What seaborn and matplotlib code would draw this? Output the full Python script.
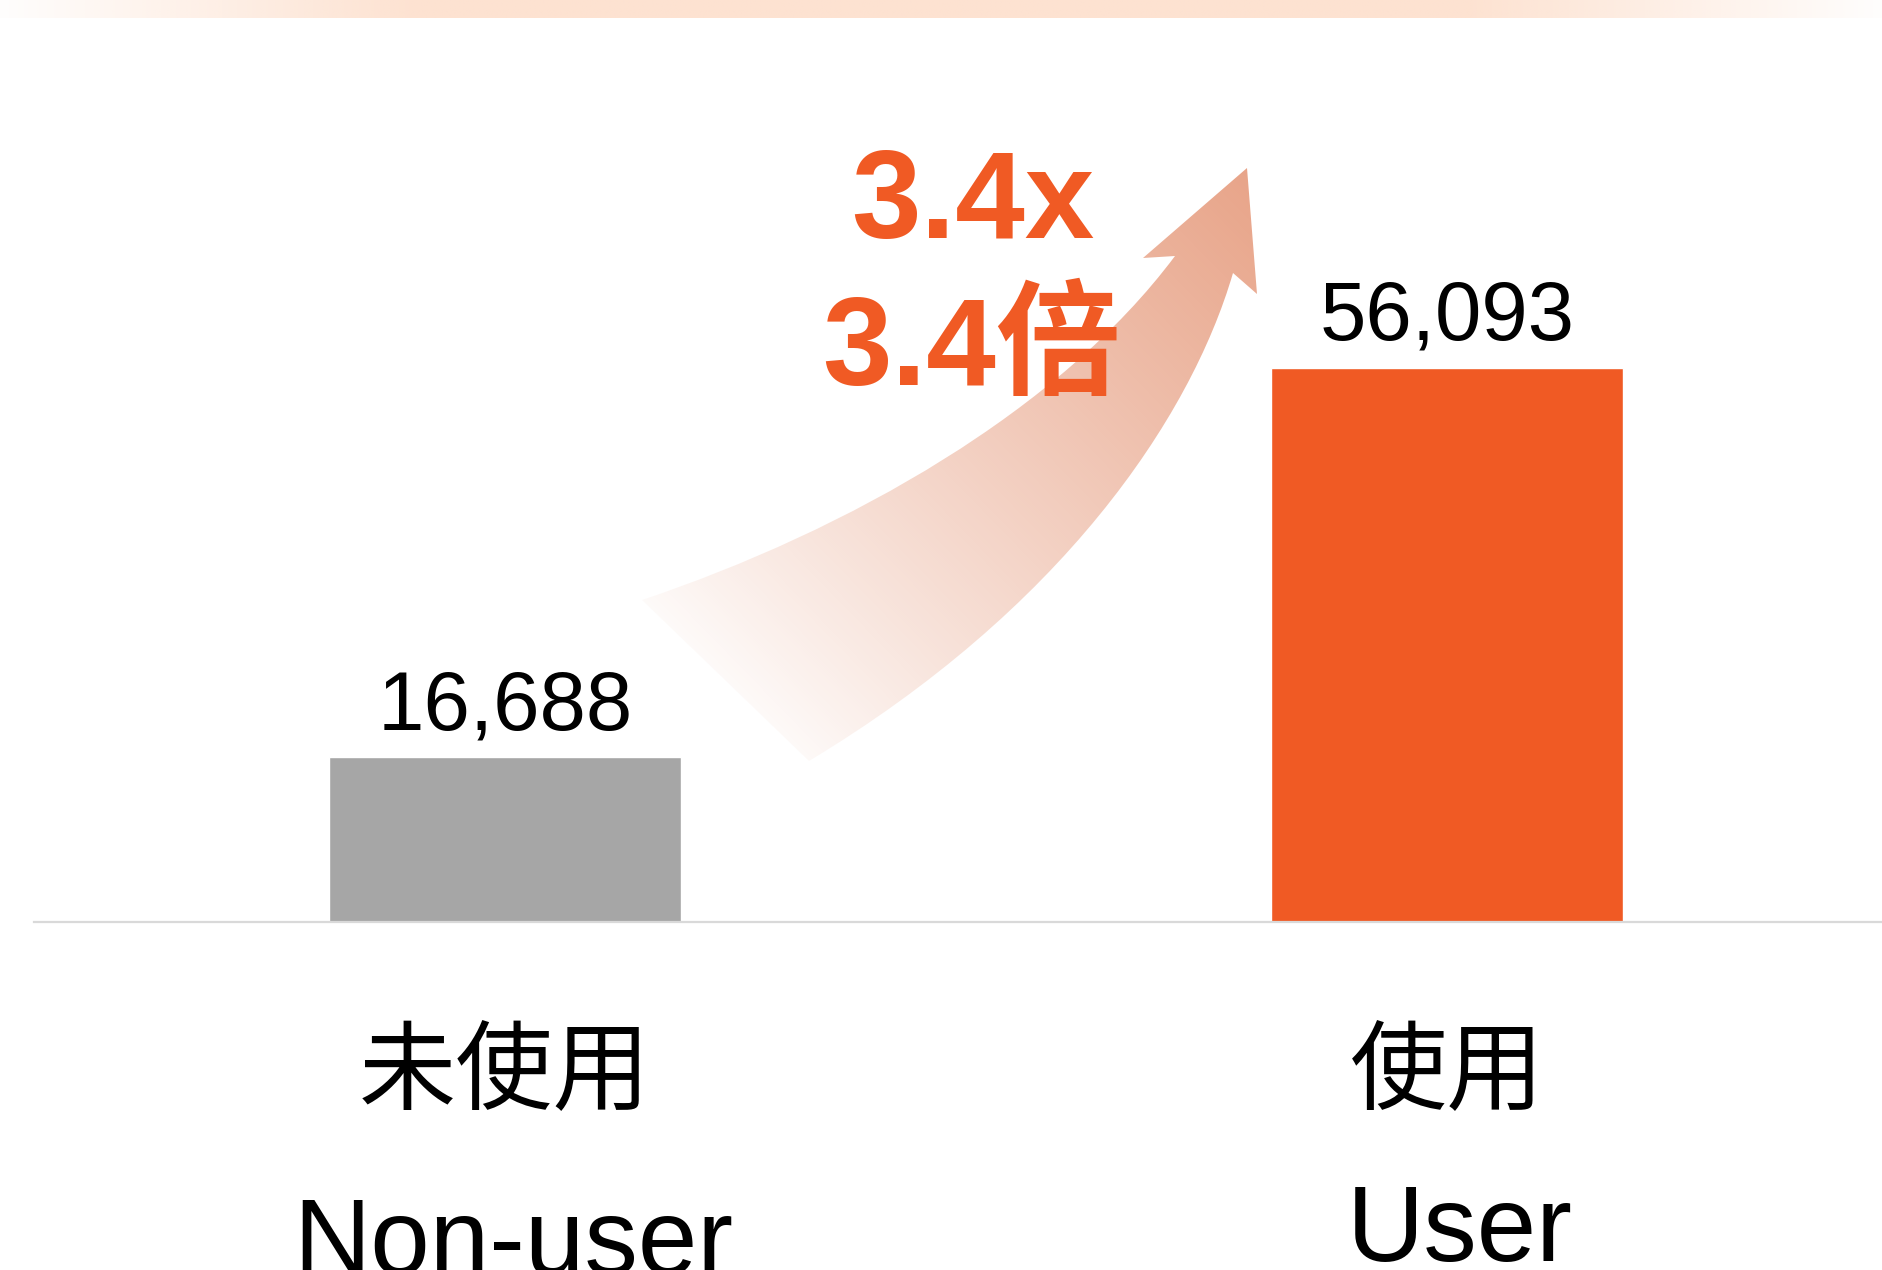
import numpy as np
import pandas as pd
import seaborn as sns
import matplotlib.pyplot as plt
from matplotlib.path import Path
from matplotlib.patches import PathPatch
from matplotlib.colors import to_rgb

# dane
groups_zh = ["未使用", "使用"]
groups_en = ["Non-user", "User"]
values = [16688, 56093]
bar_colors = ["#A6A6A6", "#F05A24"]
ratio_labels = ["3.4x", "3.4倍"]

df = pd.DataFrame({"group": groups_en, "value": values})

sns.set_style("white")
plt.rcParams['font.family'] = ['Liberation Sans', 'Noto Sans CJK TC', 'DejaVu Sans']

fig = plt.figure(figsize=(18.82, 12.70), dpi=100)
fig.patch.set_facecolor("white")

# warstwa pomocnicza w pikselach (pasek u gory + strzalka)
over = fig.add_axes([0, 0, 1, 1], zorder=0)
over.set_xlim(0, 1882)
over.set_ylim(1270, 0)
over.axis("off")

# gorny pasek z gradientem
xs = np.linspace(0, 1, 400)
band_alpha = np.clip(np.minimum(xs / 0.22, (1 - xs) / 0.22), 0, 1) * 0.85 + 0.05
band = np.zeros((1, 400, 4))
band[..., :3] = to_rgb("#FDDFCC")
band[..., 3] = band_alpha
over.imshow(band, extent=(0, 1882, 18, 0), aspect="auto", interpolation="bilinear")

# strzalka
verts = [(642, 600),
         (850, 530), (1060, 410), (1175, 256),
         (1143, 258), (1247, 168), (1257, 294), (1233, 273),
         (1190, 420), (1060, 610), (809, 761),
         (642, 600)]
codes = [Path.MOVETO,
         Path.CURVE4, Path.CURVE4, Path.CURVE4,
         Path.LINETO, Path.LINETO, Path.LINETO, Path.LINETO,
         Path.CURVE4, Path.CURVE4, Path.CURVE4,
         Path.CLOSEPOLY]
arrow_path = Path(verts, codes)
patch = PathPatch(arrow_path, facecolor="none", edgecolor="none")
over.add_patch(patch)

gx, gy = np.meshgrid(np.linspace(600, 1300, 350), np.linspace(140, 800, 330))
tail = np.array([700, 700])
head = np.array([1247, 168])
d = head - tail
t = ((gx - tail[0]) * d[0] + (gy - tail[1]) * d[1]) / (d @ d)
t = np.clip(t, 0, 1)
grad = np.zeros(gx.shape + (4,))
grad[..., :3] = to_rgb("#E8A286")
grad[..., 3] = np.clip(t ** 0.9 * 0.98, 0, 1)
im = over.imshow(grad, extent=(600, 1300, 800, 140), aspect="auto", interpolation="bilinear")
im.set_clip_path(patch)

# wykres slupkowy
ax = fig.add_axes([34 / 1882, 348 / 1270, 1848 / 1882, 922 / 1270], zorder=1)
ax.patch.set_alpha(0)
sns.barplot(data=df, x="group", y="value", hue="group", palette=bar_colors,
            width=0.373, saturation=1, legend=False, ax=ax)
ax.set_xlim(-0.5, 1.462)
ax.set_ylim(0, 93350)
ax.set_xlabel("")
ax.set_ylabel("")
ax.set_xticks([])
ax.set_yticks([])
for s in ["top", "right", "left"]:
    ax.spines[s].set_visible(False)
ax.spines["bottom"].set_color("#D9D9D9")
ax.spines["bottom"].set_linewidth(1.6)

for cont in ax.containers:
    ax.bar_label(cont, labels=[f"{v:,.0f}" for v in cont.datavalues],
                 padding=8, fontsize=60, color="black")

for i, (zh, en) in enumerate(zip(groups_zh, groups_en)):
    ax.annotate(zh, xy=(i, 0), xytext=(0, -110), textcoords="offset points",
                ha="center", va="center", fontsize=70,
                family=['Noto Sans CJK TC', 'DejaVu Sans'], color="black",
                annotation_clip=False)
    ax.annotate(en, xy=(i, 0), xytext=(6 if i == 0 else 9, -197 if i == 0 else -188),
                textcoords="offset points", ha="center", va="top",
                fontsize=77, color="black", annotation_clip=False)

# opis wzrostu
over.text(973, 206, ratio_labels[0], ha="center", va="center", fontsize=90,
          fontweight="bold", color="#F05A24", zorder=3)
over.text(822, 352, ratio_labels[1], ha="left", va="center", fontsize=90,
          fontweight="bold", color="#F05A24", zorder=3,
          family=['Liberation Sans', 'Noto Sans CJK TC'])

fig.savefig("out.png", dpi=100)
